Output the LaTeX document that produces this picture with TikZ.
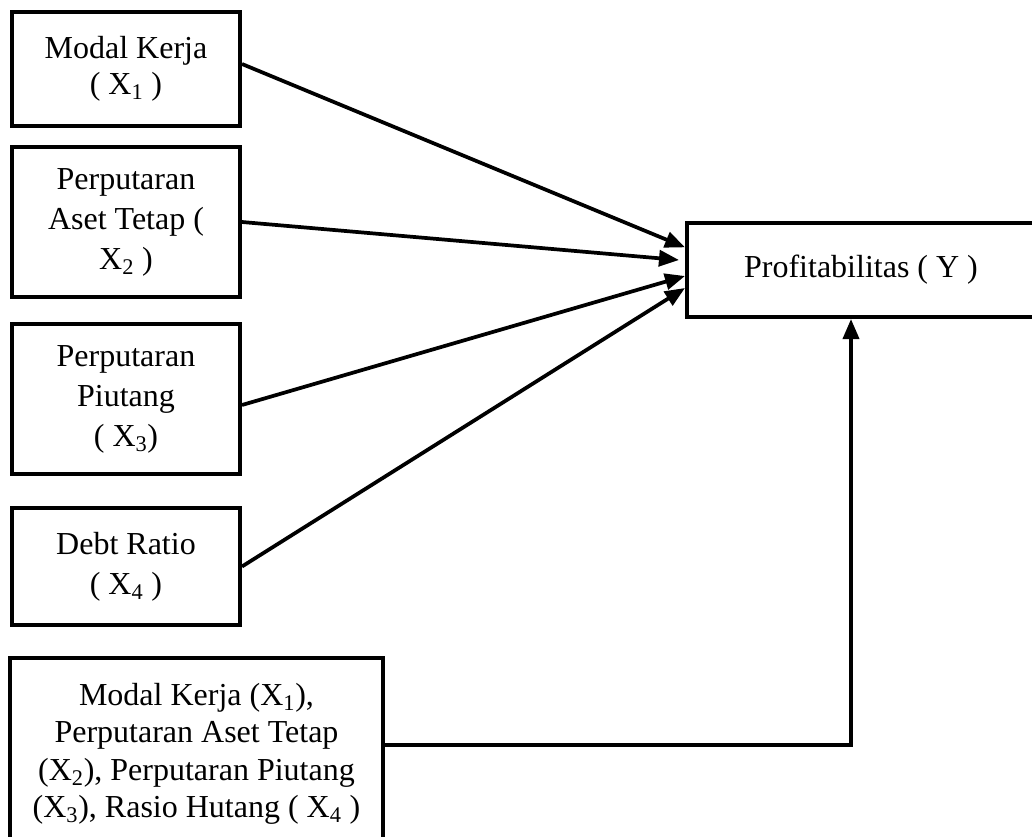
\documentclass[tikz,border=0pt]{standalone}
\usepackage{fontspec}
\setmainfont{Liberation Serif}
\usetikzlibrary{arrows.meta}
\usetikzlibrary{positioning}
\tikzset{
	varbox/.style={draw, rectangle, line width=3pt, inner sep=0pt, align=center, font=\fontsize{24}{30}\selectfont},
	link/.style={line width=2.8pt, -{Triangle[length=15pt,width=12pt]}}
}

\begin{document}
\begin{tikzpicture}[x=0.75pt, y=-0.75pt]
				\useasboundingbox (0,0) rectangle (1032,836);
				
				\node[varbox, minimum width=171pt, minimum height=85.5pt, font=\fontsize{24}{27}\selectfont] (modal) at (126,69) {Modal Kerja\\( X\textsubscript{1} )};
				\node[varbox, minimum width=171pt, minimum height=112.5pt] (aset) at (126,222) {Perputaran\\Aset Tetap (\\X\textsubscript{2} )};
				\node[varbox, minimum width=171pt, minimum height=112.5pt] (piutang) at (126,399) {Perputaran\\Piutang\\( X\textsubscript{3})};
				\node[varbox, minimum width=171pt, minimum height=87.75pt] (debt) at (126,566.5) {Debt Ratio\\( X\textsubscript{4} )};
				\node[varbox, minimum width=279.75pt, minimum height=144pt, font=\fontsize{24}{28}\selectfont] (gabungan) at (196.5,754) {Modal Kerja (X\textsubscript{1}),\\Perputaran Aset Tetap\\(X\textsubscript{2}), Perputaran Piutang\\(X\textsubscript{3}), Rasio Hutang ( X\textsubscript{4} )};
				\node[varbox, minimum width=261pt, minimum height=70.5pt] (profit) at (861,270) {Profitabilitas ( Y )};
				
				\draw[link] ([yshift=3.75pt]modal.east) -- ([yshift=17pt]profit.west);
				\draw[link] (aset.east) -- ([xshift=-4.5pt, yshift=7.5pt]profit.west);
				\draw[link] ([yshift=-4.5pt]piutang.east) -- ([yshift=-4.5pt]profit.west);
				\draw[link] (debt.east) -- ([yshift=-13.5pt]profit.west);
				\draw[link] ([yshift=6.75pt]gabungan.east) -| ([xshift=-7.5pt]profit.south);
			\end{tikzpicture}
\end{document}
